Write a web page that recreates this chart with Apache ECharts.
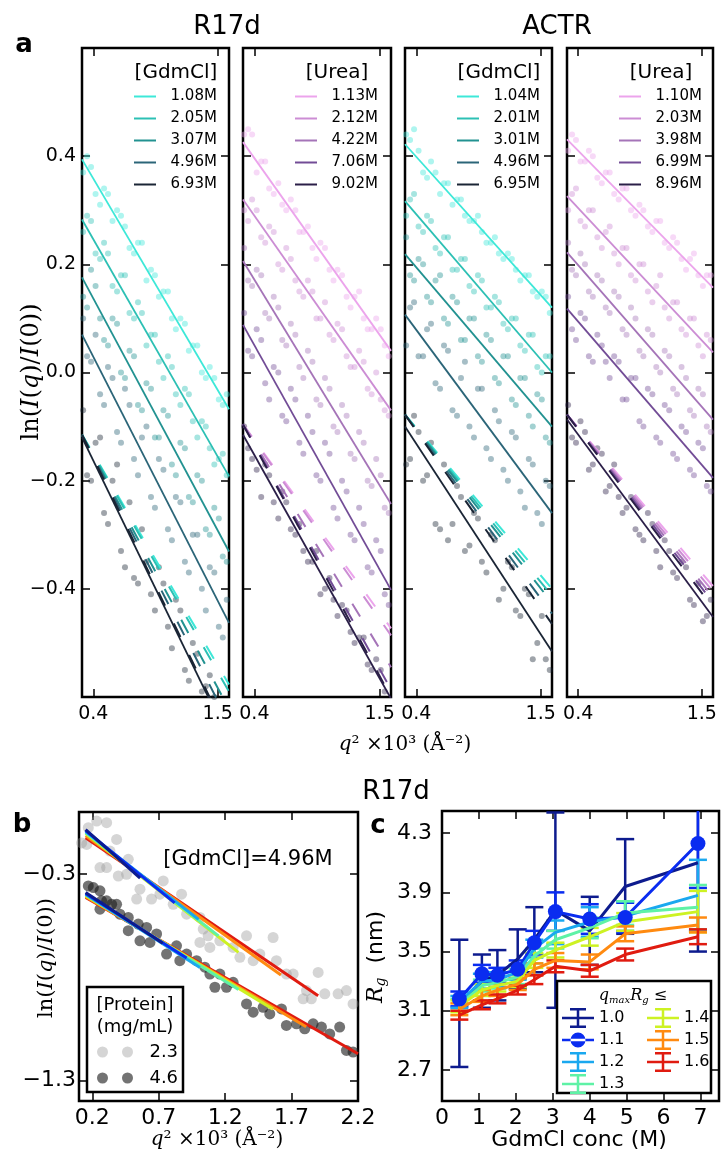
<!DOCTYPE html>
<html><head><meta charset="utf-8">
<script src="https://cdn.jsdelivr.net/npm/echarts@6/dist/echarts.min.js"></script>
<style>html,body{margin:0;padding:0;background:#fff}#c{width:721px;height:1157px}</style>
</head><body><div id="c"></div>
<script>
// ---------------- DATA ----------------
// Panel a: q^2 x10^3 sample positions (two interleaved sets shared by all curves)
const q2A = [0.31,0.38,0.46,0.53,0.61,0.68,0.76,0.83,0.91,0.98,1.06,1.13,1.21,1.28,1.36,1.43,1.51,1.58];
const q2B = [0.345,0.42,0.495,0.57,0.645,0.72,0.795,0.87,0.945,1.02,1.095,1.17,1.245,1.32,1.395,1.47,1.545];
const fitX = [0.3, 1.6];

const r17dGdmLabels = ['1.08M','2.05M','3.07M','4.96M','6.93M'];
const r17dGdmPts = [
 [0.37,0.38,0.31,0.33,0.30,0.27,0.22,0.24,0.19,0.14,0.15,0.08,0.09,0.05,0.00,0.01,-0.05,-0.04],
 [0.26,0.28,0.21,0.22,0.15,0.18,0.10,0.11,0.07,0.02,0.03,-0.04,-0.03,-0.09,-0.09,-0.14,-0.16,-0.19],
 [0.14,0.19,0.10,0.05,0.09,-0.01,0.03,-0.07,-0.03,-0.12,-0.08,-0.19,-0.14,-0.24,-0.20,-0.30,-0.27,-0.35],
 [0.10,0.02,-0.04,0.01,-0.11,-0.03,-0.16,-0.12,-0.23,-0.16,-0.29,-0.23,-0.35,-0.30,-0.40,-0.36,-0.47,-0.42],
 [-0.07,-0.20,-0.12,-0.28,-0.17,-0.36,-0.38,-0.29,-0.41,-0.36,-0.47,-0.42,-0.55,-0.50,-0.59,-0.56,-0.66,-0.63]
];
const r17dGdmPtsB = [
 [0.40,0.33,0.34,0.28,0.29,0.23,0.24,0.17,0.18,0.15,0.10,0.10,0.04,0.05,-0.01,-0.01,-0.06],
 [0.29,0.22,0.24,0.16,0.18,0.11,0.13,0.05,0.07,-0.01,0.01,-0.06,-0.04,-0.12,-0.10,-0.17,-0.15],
 [0.12,0.16,0.06,0.10,0.00,0.04,-0.06,-0.02,-0.12,-0.07,-0.17,-0.13,-0.23,-0.19,-0.29,-0.25,-0.34],
 [0.03,0.07,-0.06,-0.01,-0.13,-0.06,-0.19,-0.10,-0.25,-0.18,-0.31,-0.24,-0.37,-0.30,-0.44,-0.37,-0.49],
 [-0.19,-0.13,-0.26,-0.20,-0.33,-0.24,-0.39,-0.35,-0.44,-0.39,-0.51,-0.44,-0.57,-0.52,-0.58,-0.60,-0.65]
];
const r17dGdmFit = [[0.394,-0.068],[0.283,-0.192],[0.176,-0.331],[0.07,-0.463],[-0.12,-0.679]];
const r17dGdmDash = [[-0.115,-0.577],[-0.115,-0.590],[-0.115,-0.622],[-0.115,-0.648],[-0.115,-0.674]];

const r17dUreaLabels = ['1.13M','2.12M','4.22M','7.06M','9.02M'];
const r17dUreaPts = [
 [0.44,0.44,0.39,0.34,0.35,0.30,0.30,0.26,0.23,0.24,0.19,0.19,0.14,0.14,0.10,0.08,0.08,0.03],
 [0.30,0.32,0.25,0.27,0.20,0.23,0.17,0.14,0.15,0.10,0.07,0.09,0.03,0.01,0.02,-0.04,-0.05,-0.08],
 [0.23,0.16,0.18,0.10,0.12,0.05,0.07,-0.01,0.02,-0.06,-0.03,-0.11,-0.08,-0.16,-0.13,-0.21,-0.19,-0.26],
 [0.11,0.03,0.06,-0.05,0.00,-0.09,-0.05,-0.15,-0.11,-0.20,-0.15,-0.27,-0.22,-0.31,-0.28,-0.37,-0.33,-0.43],
 [-0.10,-0.16,-0.23,-0.19,-0.27,-0.24,-0.30,-0.33,-0.35,-0.41,-0.38,-0.45,-0.44,-0.50,-0.49,-0.55,-0.55,-0.61]
];
const r17dUreaPtsB = [
 [0.45,0.37,0.39,0.33,0.31,0.32,0.26,0.27,0.21,0.23,0.17,0.18,0.12,0.15,0.08,0.10,0.05],
 [0.28,0.30,0.24,0.26,0.19,0.21,0.15,0.17,0.10,0.13,0.06,0.08,0.01,0.04,-0.03,0.00,-0.07],
 [0.17,0.19,0.11,0.14,0.06,0.09,0.01,0.04,-0.05,-0.01,-0.10,-0.06,-0.15,-0.11,-0.20,-0.16,-0.25],
 [0.04,0.08,-0.02,0.01,-0.08,-0.03,-0.13,-0.08,-0.19,-0.13,-0.25,-0.20,-0.30,-0.25,-0.36,-0.31,-0.41],
 [-0.14,-0.18,-0.17,-0.24,-0.22,-0.29,-0.28,-0.35,-0.33,-0.40,-0.42,-0.43,-0.48,-0.49,-0.54,-0.53,-0.59]
];
const r17dUreaFit = [[0.426,0.040],[0.32,-0.07],[0.206,-0.243],[0.088,-0.402],[-0.115,-0.603]];
const r17dUreaDash = [[-0.096,-0.473],[-0.096,-0.486],[-0.096,-0.545],[-0.096,-0.586],[-0.096,-0.600]];

const actrGdmLabels = ['1.04M','2.01M','3.01M','4.96M','6.95M'];
const actrGdmPts = [
 [0.44,0.45,0.37,0.39,0.33,0.35,0.32,0.29,0.28,0.26,0.24,0.22,0.22,0.19,0.18,0.15,0.15,0.11],
 [0.29,0.33,0.26,0.28,0.22,0.25,0.19,0.21,0.15,0.17,0.12,0.13,0.08,0.10,0.04,0.07,0.00,0.03],
 [0.25,0.17,0.20,0.13,0.18,0.09,0.13,0.06,0.10,0.02,0.06,-0.02,0.03,-0.06,-0.01,-0.10,-0.05,-0.13],
 [0.05,0.13,0.03,0.09,-0.03,0.04,-0.08,0.02,-0.12,-0.03,-0.16,-0.09,-0.20,-0.12,-0.25,-0.17,-0.28,-0.21],
 [-0.17,-0.08,-0.20,-0.13,-0.29,-0.31,-0.21,-0.33,-0.26,-0.35,-0.30,-0.42,-0.35,-0.44,-0.40,-0.53,-0.45,-0.55]
];
const actrGdmPtsB = [
 [0.43,0.41,0.36,0.37,0.35,0.31,0.32,0.28,0.29,0.24,0.25,0.21,0.21,0.17,0.18,0.14,0.14],
 [0.32,0.27,0.29,0.23,0.25,0.19,0.21,0.16,0.18,0.12,0.14,0.09,0.10,0.05,0.07,0.01,0.03],
 [0.18,0.21,0.14,0.17,0.10,0.14,0.06,0.10,0.03,0.07,-0.01,0.03,-0.05,-0.01,-0.08,-0.04,-0.12],
 [0.12,0.03,0.08,-0.02,0.05,-0.07,-0.01,-0.10,-0.03,-0.14,-0.07,-0.18,-0.11,-0.22,-0.16,-0.26,-0.20],
 [-0.16,-0.11,-0.19,-0.28,-0.17,-0.28,-0.23,-0.32,-0.27,-0.37,-0.31,-0.40,-0.36,-0.45,-0.41,-0.50,-0.53]
];
const actrGdmFit = [[0.422,0.12],[0.317,0.0],[0.219,-0.10],[0.107,-0.26],[-0.10,-0.516]];
const actrGdmDash = [[-0.078,-0.400],[-0.078,-0.413],[-0.078,-0.426],[-0.078,-0.446],[-0.078,-0.465]];

const actrUreaLabels = ['1.10M','2.03M','3.98M','6.99M','8.96M'];
const actrUreaPts = [
 [0.41,0.43,0.39,0.40,0.35,0.37,0.32,0.34,0.29,0.30,0.26,0.28,0.23,0.24,0.19,0.22,0.16,0.18],
 [0.30,0.34,0.27,0.30,0.23,0.27,0.20,0.23,0.17,0.20,0.13,0.18,0.10,0.13,0.07,0.10,0.03,0.06],
 [0.24,0.18,0.20,0.14,0.17,0.11,0.14,0.07,0.10,0.03,0.07,0.00,0.03,-0.04,-0.01,-0.08,-0.04,-0.11],
 [0.14,0.06,0.10,0.02,0.05,-0.01,0.02,-0.05,-0.01,-0.10,-0.04,-0.13,-0.07,-0.16,-0.11,-0.19,-0.14,-0.22],
 [-0.06,-0.13,-0.11,-0.17,-0.15,-0.21,-0.23,-0.25,-0.29,-0.31,-0.28,-0.36,-0.33,-0.38,-0.36,-0.43,-0.46,-0.42]
];
const actrUreaPtsB = [
 [0.44,0.39,0.41,0.36,0.37,0.33,0.34,0.30,0.31,0.27,0.28,0.24,0.25,0.21,0.21,0.18,0.18],
 [0.33,0.28,0.30,0.25,0.26,0.22,0.23,0.18,0.20,0.15,0.16,0.12,0.13,0.08,0.10,0.05,0.07],
 [0.19,0.22,0.15,0.18,0.12,0.15,0.08,0.12,0.04,0.08,0.01,0.04,-0.03,0.01,-0.07,-0.03,-0.10],
 [0.08,0.11,0.03,0.07,0.02,0.03,-0.05,-0.01,-0.09,-0.03,-0.12,-0.06,-0.15,-0.10,-0.18,-0.13,-0.21],
 [-0.12,-0.09,-0.18,-0.14,-0.22,-0.17,-0.26,-0.23,-0.30,-0.26,-0.33,-0.31,-0.37,-0.35,-0.42,-0.39,-0.45]
];
const actrUreaFit = [[0.431,0.157],[0.326,0.037],[0.222,-0.087],[0.118,-0.195],[-0.087,-0.452]];
const actrUreaDash = [[-0.078,-0.395],[-0.078,-0.405],[-0.078,-0.415],[-0.078,-0.425],[-0.078,-0.435]];

const aYTicks = [-0.4,-0.2,0,0.2,0.4];
const aXTicks = [0.4,1.5];

// Panel b
const bLightX = [0.12,0.158,0.170,0.233,0.308,0.383,0.333,0.258,0.308,0.471,0.396,0.458,0.559,0.534,0.646,0.734,0.709,0.872,0.809,0.910,1.010,1.035,1.072,1.010,1.085,1.160,1.260,1.311,1.361,1.411,1.461,1.561,1.586,1.661,1.712,1.787,1.812,1.849,1.900,1.950,2.050,2.113,2.163];
const bLightY = [-0.15,-0.157,-0.076,-0.044,-0.052,-0.133,-0.189,-0.269,-0.269,-0.229,-0.310,-0.302,-0.374,-0.422,-0.422,-0.334,-0.398,-0.398,-0.447,-0.495,-0.511,-0.567,-0.600,-0.632,-0.656,-0.624,-0.656,-0.704,-0.600,-0.720,-0.688,-0.608,-0.720,-0.785,-0.785,-0.905,-0.865,-0.905,-0.777,-0.881,-0.881,-0.865,-0.930];
const bDarkX = [0.170,0.208,0.258,0.270,0.308,0.258,0.346,0.383,0.408,0.471,0.471,0.546,0.609,0.559,0.634,0.684,0.759,0.834,0.859,0.910,0.985,1.047,1.085,1.123,1.160,1.210,1.260,1.361,1.411,1.486,1.536,1.624,1.661,1.737,1.799,1.862,1.925,1.987,2.062,2.113,2.163];
const bDarkY = [-0.358,-0.366,-0.382,-0.430,-0.430,-0.471,-0.447,-0.447,-0.495,-0.511,-0.575,-0.543,-0.559,-0.624,-0.632,-0.591,-0.688,-0.648,-0.720,-0.688,-0.720,-0.752,-0.785,-0.849,-0.785,-0.849,-0.825,-0.930,-0.970,-0.946,-0.978,-0.954,-1.034,-1.026,-1.050,-1.026,-1.042,-1.075,-1.042,-1.155,-1.163];
const qmaxLabels = ['1.0','1.1','1.2','1.3','1.4','1.5','1.6'];
const bFitStartX = 0.15;
const bUpperEndX = [0.56,0.82,1.00,1.15,1.30,1.62,1.90];
const bUpperY0 = [-0.085,-0.09,-0.095,-0.10,-0.105,-0.115,-0.125];
const bUpperY1 = [-0.32,-0.44,-0.52,-0.60,-0.68,-0.79,-0.89];
const bLowerEndX = [0.73,0.91,1.01,1.30,1.56,1.81,2.20];
const bLowerY0 = [-0.39,-0.395,-0.40,-0.40,-0.405,-0.41,-0.414];
const bLowerY1 = [-0.636,-0.707,-0.753,-0.86,-0.955,-1.04,-1.171];
const bXTicks = [0.2,0.7,1.2,1.7,2.2];
const bYTicks = [-1.3,-0.3];

// Panel c
const cX = [0.47,1.08,1.5,2.05,2.5,3.07,4.0,4.96,6.93];
const cRg = [
 [3.15,3.30,3.34,3.45,3.58,3.78,3.64,3.94,4.10],
 [3.18,3.35,3.34,3.38,3.56,3.77,3.72,3.73,4.23],
 [3.16,3.30,3.31,3.36,3.52,3.63,3.70,3.74,3.88],
 [3.14,3.27,3.29,3.33,3.47,3.58,3.66,3.76,3.80],
 [3.13,3.24,3.27,3.30,3.44,3.51,3.60,3.70,3.77],
 [3.11,3.20,3.24,3.28,3.38,3.44,3.43,3.62,3.68],
 [3.07,3.14,3.18,3.24,3.31,3.40,3.37,3.48,3.60]
];
const cErr = [
 [0.43,0.18,0.17,0.20,0.22,0.66,0.23,0.32,0.60],
 [0.05,0.06,0.05,0.06,0.08,0.13,0.10,0.10,0.30],
 [0.04,0.05,0.05,0.05,0.06,0.08,0.10,0.10,0.24],
 [0.04,0.04,0.04,0.05,0.05,0.06,0.07,0.08,0.15],
 [0.04,0.04,0.04,0.04,0.05,0.05,0.06,0.06,0.14],
 [0.04,0.04,0.04,0.04,0.04,0.05,0.05,0.05,0.05],
 [0.03,0.03,0.03,0.03,0.03,0.04,0.04,0.04,0.05]
];
const cXTicks = [0,1,2,3,4,5,6,7];
const cYTicks = [2.7,3.1,3.5,3.9,4.3];

// ---------------- STYLE ----------------
const gdmColors = ['#3de8d8','#2cc0b4','#229291','#2b6578','#1a2535'];
const ureaColors = ['#eca4ec','#cc8dd4','#a574b8','#724c96','#2b1f48'];
const jet = ['#0d1b8e','#0a2cf0','#1aa8ef','#5ef2a6','#cdf223','#ff8a10','#e01b10'];

const gridsPx = [
 {left:82, top:48, width:147, height:649},
 {left:243, top:48, width:148, height:649},
 {left:405, top:48, width:147, height:649},
 {left:567, top:48, width:146, height:649},
 {left:79, top:812, width:279, height:289},
 {left:442, top:811, width:277, height:290}
];
const minus = s => s.replace('-', '\u2212');
const f1 = v => minus((Math.round(v*10)/10).toFixed(1));
const f0 = v => String(Math.round(v));

const tick = {inside:true, length:8, lineStyle:{color:'#000', width:1.5}};
const noLine = {show:false, onZero:false};
const xAxes = [], yAxes = [];
function addAxes(g, xr, yr, xt, yt, showX, showY, fs, fmtX, fmtY, xm, ym) {
  xAxes.push({type:'value', gridIndex:g, min:xr[0], max:xr[1], position:'bottom', axisLine:noLine, splitLine:{show:false},
    axisTick:Object.assign({customValues:xt}, tick),
    axisLabel:{show:showX, customValues:xt, fontSize:fs, color:'#000', margin:xm, formatter:fmtX, hideOverlap:false}});
  xAxes.push({type:'value', gridIndex:g, min:xr[0], max:xr[1], position:'top', axisLine:noLine, splitLine:{show:false},
    axisTick:Object.assign({customValues:xt}, tick), axisLabel:{show:false}});
  yAxes.push({type:'value', gridIndex:g, min:yr[0], max:yr[1], position:'left', axisLine:noLine, splitLine:{show:false},
    axisTick:Object.assign({customValues:yt}, tick),
    axisLabel:{show:showY, customValues:yt, fontSize:fs, color:'#000', margin:ym, formatter:fmtY, hideOverlap:false}});
  yAxes.push({type:'value', gridIndex:g, min:yr[0], max:yr[1], position:'right', axisLine:noLine, splitLine:{show:false},
    axisTick:Object.assign({customValues:yt}, tick), axisLabel:{show:false}});
}
for (let g=0; g<4; g++) addAxes(g, [0.3,1.6], [-0.6,0.6], aXTicks, aYTicks, true, g===0, 19, f1, f1, 8, 6);
addAxes(4, [0.1,2.2], [-1.4,0.0], bXTicks, bYTicks, true, true, 22, f1, f1, 6, 3);
addAxes(5, [0,7.5], [2.49,4.45], cXTicks, cYTicks, true, true, 22, f0, f1, 6, 10);

const grids = gridsPx.map(p => Object.assign({show:true, borderColor:'#000', borderWidth:2.5, backgroundColor:'transparent', containLabel:false}, p));

const series = [];
const legends = [];
const graphics = [];
const T = (x, y, text, fs, extra) => ({type:'text', x, y, z:30, style:Object.assign({text, fontSize:fs, fontFamily:'DejaVu Sans', fill:'#000', align:'center', verticalAlign:'middle', textAlign:'center', textVerticalAlign:'middle'}, extra || {})});

const subplots = [
 {labels:r17dGdmLabels, pts:r17dGdmPts, ptsB:r17dGdmPtsB, fit:r17dGdmFit, dash:r17dGdmDash, colors:gdmColors, title:'[GdmCl]'},
 {labels:r17dUreaLabels, pts:r17dUreaPts, ptsB:r17dUreaPtsB, fit:r17dUreaFit, dash:r17dUreaDash, colors:ureaColors, title:'[Urea]'},
 {labels:actrGdmLabels, pts:actrGdmPts, ptsB:actrGdmPtsB, fit:actrGdmFit, dash:actrGdmDash, colors:gdmColors, title:'[GdmCl]'},
 {labels:actrUreaLabels, pts:actrUreaPts, ptsB:actrUreaPtsB, fit:actrUreaFit, dash:actrUreaDash, colors:ureaColors, title:'[Urea]'}
];
subplots.forEach((sp, g) => {
  sp.pts.forEach((ys, k) => {
    const data = q2A.map((x,i)=>[x, ys[i]]).concat(q2B.map((x,i)=>[x, sp.ptsB[k][i]]));
    series.push({type:'scatter', name:'pts'+g+k, xAxisIndex:g*2, yAxisIndex:g*2, silent:true, z:1,
      data, symbolSize:6, itemStyle:{color:sp.colors[k], opacity:0.42}});
  });
  sp.dash.forEach((ys, k) => series.push({type:'line', name:'dash'+g+k, xAxisIndex:g*2, yAxisIndex:g*2, silent:true, z:3,
    data:fitX.map((x,i)=>[x, ys[i]]), symbol:'none', lineStyle:{color:sp.colors[k], width:2, type:[15,20]}}));
  sp.fit.forEach((ys, k) => series.push({type:'line', name:sp.labels[k], xAxisIndex:g*2, yAxisIndex:g*2, silent:true, z:4,
    data:fitX.map((x,i)=>[x, ys[i]]), symbol:'none', itemStyle:{color:sp.colors[k]}, lineStyle:{color:sp.colors[k], width:1.8}}));
  const L = gridsPx[g].left;
  legends.push({data:sp.labels, orient:'vertical', left:L+52, top:89, padding:0, itemWidth:22, itemHeight:2, itemGap:7,
    icon:'rect', selectedMode:false, formatter:n => '  ' + n, textStyle:{fontSize:15, lineHeight:15, color:'#000', fontFamily:'DejaVu Sans'}});
  graphics.push(T(L+94, 73, sp.title, 20));
});

// Panel b
series.push({type:'scatter', name:'2.3', xAxisIndex:8, yAxisIndex:8, z:1, symbolSize:11, silent:true,
  data:bLightX.map((x,i)=>[x, bLightY[i]]), itemStyle:{color:'rgba(150,150,150,0.5)'}});
series.push({type:'scatter', name:'4.6', xAxisIndex:8, yAxisIndex:8, z:1, symbolSize:11, silent:true,
  data:bDarkX.map((x,i)=>[x, bDarkY[i]]), itemStyle:{color:'rgba(30,30,30,0.78)'}});
for (let k = qmaxLabels.length - 1; k >= 0; k--) {
  const lab = qmaxLabels[k];
  series.push({type:'line', name:'bu'+lab, xAxisIndex:8, yAxisIndex:8, z:3, symbol:'none', silent:true,
    data:[[bFitStartX, bUpperY0[k]],[bUpperEndX[k], bUpperY1[k]]], lineStyle:{color:jet[k], width:3}});
  series.push({type:'line', name:'bl'+lab, xAxisIndex:8, yAxisIndex:8, z:3, symbol:'none', silent:true,
    data:[[bFitStartX, bLowerY0[k]],[bLowerEndX[k], bLowerY1[k]]], lineStyle:{color:jet[k], width:3}});
}
const twoDots = 'path://M0,5.5a5.5,5.5 0 1,0 11,0a5.5,5.5 0 1,0 -11,0z M25,5.5a5.5,5.5 0 1,0 11,0a5.5,5.5 0 1,0 -11,0z';
legends.push({data:['2.3','4.6'], orient:'vertical', left:97, top:1043, padding:0, itemWidth:36, itemHeight:11, itemGap:8, z:20,
  icon:twoDots, selectedMode:false, formatter:n => '  ' + n, textStyle:{fontSize:18, lineHeight:18, color:'#000'}});
graphics.push({type:'rect', z:10, shape:{x:87, y:987, width:96, height:105}, style:{fill:'#fff', stroke:'#000', lineWidth:2.5}});
graphics.push(T(135, 1005, '[Protein]', 18));
graphics.push(T(135, 1027, '(mg/mL)', 18));
graphics.push(T(248, 860, '[GdmCl]=4.96M', 21));

// Panel c
qmaxLabels.forEach((lab, k) => {
  series.push({type:'custom', name:'err'+lab, xAxisIndex:10, yAxisIndex:10, z:2, clip:true, silent:true,
    data:cX.map((x,i)=>[x, cRg[k][i]-cErr[k][i], cRg[k][i]+cErr[k][i]]),
    encode:{x:0, y:[1,2]},
    renderItem:(params, api) => {
      const x = api.value(0);
      const lo = api.coord([x, api.value(1)]);
      const hi = api.coord([x, api.value(2)]);
      const w = 9, st = {stroke:jet[k], lineWidth:2.5};
      return {type:'group', children:[
        {type:'line', shape:{x1:lo[0], y1:lo[1], x2:hi[0], y2:hi[1]}, style:st},
        {type:'line', shape:{x1:lo[0]-w, y1:lo[1], x2:lo[0]+w, y2:lo[1]}, style:st},
        {type:'line', shape:{x1:hi[0]-w, y1:hi[1], x2:hi[0]+w, y2:hi[1]}, style:st}
      ]};
    }});
  series.push({type:'line', name:lab, xAxisIndex:10, yAxisIndex:10, z:3, silent:true,
    data:cX.map((x,i)=>[x, cRg[k][i]]), symbol: k===1 ? 'circle' : 'none', symbolSize:15, showSymbol:k===1,
    itemStyle:{color:jet[k]}, lineStyle:{color:jet[k], width:3}});
});
const errIcon = 'path://M0,8.75h32v2.5h-32z M14.75,0h2.5v20h-2.5z M8,0h16v2.5h-16z M8,17.5h16v2.5h-16z';
const dotIcon = 'path://M0,8.75h32v2.5h-32z M8.5,10a7.5,7.5 0 1,0 15,0a7.5,7.5 0 1,0 -15,0z';
const cLegItem = n => ({name:n, icon: n==='1.1' ? dotIcon : errIcon});
legends.push({data:['1.0','1.1','1.2','1.3'].map(cLegItem), orient:'vertical', left:562, top:1008, padding:0, itemWidth:32, itemHeight:20, itemGap:2, z:20,
  symbolKeepAspect:true, selectedMode:false, textStyle:{fontSize:16, lineHeight:20, color:'#000'}});
legends.push({data:['1.4','1.5','1.6'].map(cLegItem), orient:'vertical', left:647, top:1008, padding:0, itemWidth:32, itemHeight:20, itemGap:2, z:20,
  symbolKeepAspect:true, selectedMode:false, textStyle:{fontSize:16, lineHeight:20, color:'#000'}});
graphics.push({type:'rect', z:10, shape:{x:557, y:981, width:154, height:112}, style:{fill:'#fff', stroke:'#000', lineWidth:2.5}});
const serif = 'DejaVu Serif';
graphics.push(T(633, 996, '{i|q}{s|max}{i|R}{s|g}{n| \u2264}', 16, {rich:{
  i:{fontStyle:'italic', fontFamily:serif, fontSize:16},
  s:{fontStyle:'italic', fontFamily:serif, fontSize:10, padding:[8,0,0,0]},
  n:{fontFamily:serif, fontSize:16}}}));

// Titles and labels
graphics.push(T(227, 27, 'R17d', 26));
graphics.push(T(557, 27, 'ACTR', 26));
graphics.push(T(396, 792, 'R17d', 26));
graphics.push(T(24, 45, 'a', 26, {fontWeight:'bold'}));
graphics.push(T(22, 825, 'b', 26, {fontWeight:'bold'}));
graphics.push(T(378, 826, 'c', 26, {fontWeight:'bold'}));

const lnText = '{n|ln(}{i|I}{n|(}{i|q}{n|)/}{i|I}{n|(0))}';
graphics.push(Object.assign(T(32, 372, lnText, 24, {fontFamily:serif, rich:{n:{fontFamily:serif, fontSize:24}, i:{fontFamily:serif, fontStyle:'italic', fontSize:24}}}), {rotation:Math.PI/2}));
graphics.push(Object.assign(T(47, 958, lnText, 21, {fontFamily:serif, rich:{n:{fontFamily:serif, fontSize:21}, i:{fontFamily:serif, fontStyle:'italic', fontSize:21}}}), {rotation:Math.PI/2}));
graphics.push(Object.assign(T(376, 957, '{i|R}{s|g}{n|  (nm)}', 22, {rich:{
  i:{fontFamily:serif, fontStyle:'italic', fontSize:22},
  s:{fontFamily:serif, fontStyle:'italic', fontSize:14, padding:[10,0,0,0]},
  n:{fontFamily:'DejaVu Sans', fontSize:22}}}), {rotation:Math.PI/2}));

const qText = '{i|q}{n|\u00B2 \u00D710\u00B3 (\u00C5\u207B\u00B2)}';
const qRich = {i:{fontFamily:serif, fontStyle:'italic', fontSize:20}, n:{fontFamily:serif, fontSize:20}};
graphics.push(T(405, 745, qText, 20, {rich:qRich}));
graphics.push(T(217, 1140, qText, 20, {rich:qRich}));
graphics.push(T(579, 1140, 'GdmCl conc (M)', 22));

const chart = echarts.init(document.getElementById('c'), null, {renderer:'canvas'});
chart.setOption({
  animation:false,
  backgroundColor:'#fff',
  textStyle:{fontFamily:'DejaVu Sans'},
  grid:grids, xAxis:xAxes, yAxis:yAxes, legend:legends, series,
  graphic:{elements:graphics}
});
</script></body></html>
